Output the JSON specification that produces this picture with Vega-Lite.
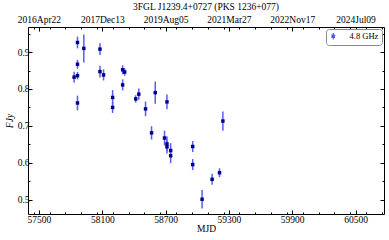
{
  "$schema": "https://vega.github.io/schema/vega-lite/v6.json",
  "autosize": {"type": "none"},
  "padding": {"left": 28, "top": 27, "right": 5, "bottom": 26},
  "width": 356,
  "height": 187,
  "title": {"text": "3FGL J1239.4+0727 (PKS 1236+077)", "font": "Liberation Serif", "fontSize": 9.5, "fontWeight": "normal", "color": "black", "offset": 3, "anchor": "middle"},
  "config": {
    "view": {"stroke": "black", "strokeWidth": 1},
    "font": "Liberation Serif",
    "axis": {"domain": false, "grid": false, "labelFont": "Liberation Serif", "labelFontSize": 9.5, "labelColor": "black", "tickColor": "black", "titleFont": "Liberation Serif", "titleFontSize": 9.5, "titleColor": "black", "titleFontWeight": "normal"}
  },
  "data": {"values": [
    {"mjd": 57833, "flux": 0.832, "err": 0.015},
    {"mjd": 57865, "flux": 0.926, "err": 0.016},
    {"mjd": 57865, "flux": 0.867, "err": 0.012},
    {"mjd": 57865, "flux": 0.836, "err": 0.010},
    {"mjd": 57865, "flux": 0.762, "err": 0.020},
    {"mjd": 57925, "flux": 0.910, "err": 0.038},
    {"mjd": 58078, "flux": 0.908, "err": 0.016},
    {"mjd": 58078, "flux": 0.847, "err": 0.016},
    {"mjd": 58112, "flux": 0.838, "err": 0.015},
    {"mjd": 58198, "flux": 0.777, "err": 0.020},
    {"mjd": 58198, "flux": 0.750, "err": 0.015},
    {"mjd": 58293, "flux": 0.852, "err": 0.012},
    {"mjd": 58312, "flux": 0.846, "err": 0.010},
    {"mjd": 58293, "flux": 0.811, "err": 0.015},
    {"mjd": 58417, "flux": 0.773, "err": 0.010},
    {"mjd": 58446, "flux": 0.786, "err": 0.015},
    {"mjd": 58510, "flux": 0.746, "err": 0.020},
    {"mjd": 58567, "flux": 0.681, "err": 0.018},
    {"mjd": 58602, "flux": 0.790, "err": 0.030},
    {"mjd": 58690, "flux": 0.667, "err": 0.020},
    {"mjd": 58713, "flux": 0.765, "err": 0.020},
    {"mjd": 58713, "flux": 0.651, "err": 0.020},
    {"mjd": 58713, "flux": 0.643, "err": 0.018},
    {"mjd": 58748, "flux": 0.633, "err": 0.020},
    {"mjd": 58748, "flux": 0.619, "err": 0.020},
    {"mjd": 58957, "flux": 0.644, "err": 0.015},
    {"mjd": 58957, "flux": 0.595, "err": 0.015},
    {"mjd": 59046, "flux": 0.501, "err": 0.025},
    {"mjd": 59141, "flux": 0.555, "err": 0.015},
    {"mjd": 59211, "flux": 0.573, "err": 0.012},
    {"mjd": 59243, "flux": 0.713, "err": 0.026}
  ]},
  "resolve": {"axis": {"x": "independent", "y": "independent"}},
  "layer": [
    {
      "mark": {"type": "errorbar", "color": "#5c5cf5", "thickness": 1.5},
      "encoding": {
        "x": {"field": "mjd", "type": "quantitative", "scale": {"domain": [57396, 60770], "nice": false, "zero": false},
              "axis": {"orient": "bottom", "values": [57500, 58100, 58700, 59300, 59900, 60500], "format": "d", "tickSize": -4, "labelPadding": 4, "title": "MJD", "titlePadding": 0}},
        "y": {"field": "flux", "type": "quantitative", "scale": {"domain": [0.461, 0.968], "nice": false, "zero": false},
              "axis": {"orient": "left", "values": [0.5, 0.6, 0.7, 0.8, 0.9], "format": ".1f", "tickSize": -4, "labelPadding": 3, "title": "FJy", "titleFontStyle": "italic", "titlePadding": 3}},
        "yError": {"field": "err"}
      }
    },
    {
      "mark": {"type": "square", "filled": true, "size": 12, "opacity": 1},
      "encoding": {
        "x": {"field": "mjd", "type": "quantitative",
              "axis": {"orient": "top", "values": [57500, 58100, 58700, 59300, 59900, 60500], "tickSize": -4, "labelPadding": 7, "title": null,
                       "labelExpr": "datum.value == 57500 ? '2016Apr22' : datum.value == 58100 ? '2017Dec13' : datum.value == 58700 ? '2019Aug05' : datum.value == 59300 ? '2021Mar27' : datum.value == 59900 ? '2022Nov17' : '2024Jul09'"}},
        "y": {"field": "flux", "type": "quantitative",
              "axis": {"orient": "right", "values": [0.5, 0.6, 0.7, 0.8, 0.9], "tickSize": -4, "labels": false, "title": null}},
        "color": {"datum": "4.8 GHz", "type": "nominal", "scale": {"range": ["#00008b"]},
                  "legend": {"title": null, "orient": "top-right", "offset": 2, "strokeColor": "#888", "cornerRadius": 3, "padding": 3, "fillColor": "white",
                             "symbolType": "M0,-1V1M-0.4,-0.4H0.4V0.4H-0.4Z", "symbolSize": 40, "symbolStrokeColor": "#5c5cf5", "symbolFillColor": "#00008b", "symbolStrokeWidth": 1.2,
                             "labelFont": "Liberation Serif", "labelFontSize": 8.5, "labelColor": "black", "labelOffset": 12}}
      }
    },
    {
      "mark": {"type": "point", "opacity": 0},
      "encoding": {
        "x": {"field": "mjd", "type": "quantitative",
              "axis": {"orient": "bottom", "values": [57450, 57600, 57750, 57900, 58050, 58200, 58350, 58500, 58650, 58800, 58950, 59100, 59250, 59400, 59550, 59700, 59850, 60000, 60150, 60300, 60450, 60600, 60750], "tickSize": -2, "labels": false, "title": null}},
        "y": {"field": "flux", "type": "quantitative",
              "axis": {"orient": "left", "values": [0.55, 0.65, 0.75, 0.85, 0.95], "tickSize": -2, "labels": false, "title": null}}
      }
    },
    {
      "mark": {"type": "point", "opacity": 0},
      "encoding": {
        "x": {"field": "mjd", "type": "quantitative",
              "axis": {"orient": "top", "values": [57450, 57600, 57750, 57900, 58050, 58200, 58350, 58500, 58650, 58800, 58950, 59100, 59250, 59400, 59550, 59700, 59850, 60000, 60150, 60300, 60450, 60600, 60750], "tickSize": -2, "labels": false, "title": null}},
        "y": {"field": "flux", "type": "quantitative",
              "axis": {"orient": "right", "values": [0.55, 0.65, 0.75, 0.85, 0.95], "tickSize": -2, "labels": false, "title": null}}
      }
    }
  ]
}
